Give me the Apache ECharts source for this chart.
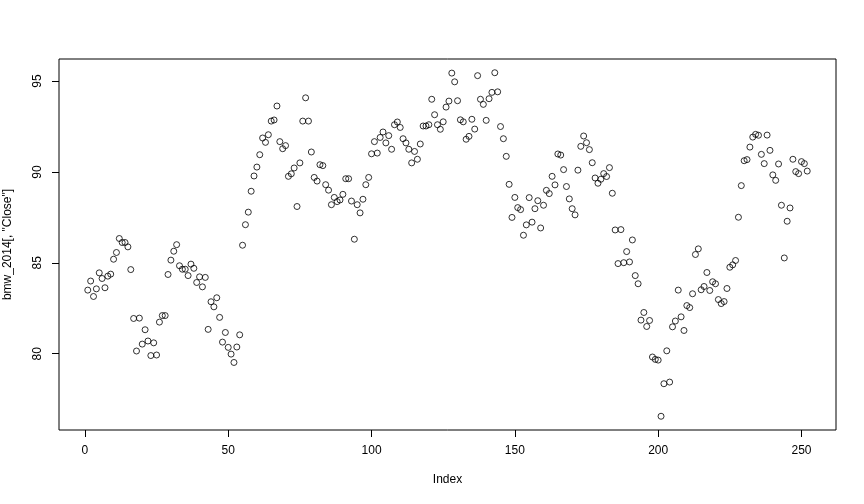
<!DOCTYPE html>
<html>
<head>
<meta charset="utf-8">
<script src="https://cdn.jsdelivr.net/npm/echarts@6/dist/echarts.min.js"></script>
<style>
html,body{margin:0;padding:0;background:#fff;}
#chart{width:864px;height:504px;}
</style>
</head>
<body>
<div id="chart"></div>
<script>
// BMW 2014 closing prices
const closeValues = [
  83.5, 84.0, 83.15, 83.57, 84.45, 84.14, 83.63, 84.27, 84.38, 85.2,
  85.57, 86.34, 86.12, 86.12, 85.88, 84.63, 81.94, 80.15, 81.96, 80.53,
  81.32, 80.7, 79.9, 80.6, 79.93, 81.74, 82.1, 82.1, 84.36, 85.15,
  85.64, 86.0, 84.84, 84.65, 84.65, 84.3, 84.93, 84.7, 83.92, 84.23,
  83.68, 84.2, 81.34, 82.86, 82.58, 83.08, 82.0, 80.64, 81.17, 80.35,
  79.98, 79.52, 80.37, 81.04, 85.97, 87.1, 87.79, 88.94, 89.78, 90.27,
  90.95, 91.87, 91.63, 92.05, 92.8, 92.86, 93.63, 91.67, 91.28, 91.45,
  89.76, 89.9, 90.22, 88.1, 90.5, 92.8, 94.08, 92.8, 91.1, 89.7,
  89.5, 90.4, 90.35, 89.3, 89.0, 88.2, 88.6, 88.37, 88.46, 88.77,
  89.63, 89.63, 88.4, 86.3, 88.2, 87.75, 88.5, 89.3, 89.7, 91.0,
  91.67, 91.04, 91.9, 92.2, 91.6, 92.0, 91.25, 92.6, 92.75, 92.45,
  91.83, 91.6, 91.25, 90.5, 91.13, 90.7, 91.54, 92.53, 92.53, 92.6,
  94.0, 93.15, 92.6, 92.35, 92.76, 93.57, 93.9, 95.44, 94.96, 93.92,
  92.87, 92.76, 91.8, 91.96, 92.9, 92.36, 95.3, 94.0, 93.72, 92.84,
  94.03, 94.38, 95.46, 94.41, 92.5, 91.83, 90.86, 89.32, 87.5, 88.6,
  88.04, 87.93, 86.52, 87.09, 88.59, 87.24, 87.98, 88.42, 86.92, 88.17,
  88.99, 88.81, 89.76, 89.29, 90.99, 90.93, 90.13, 89.2, 88.52, 87.98,
  87.64, 90.1, 91.41, 91.98, 91.61, 91.23, 90.51, 89.67, 89.38, 89.6,
  89.91, 89.75, 90.24, 88.83, 86.81, 84.96, 86.83, 85.01, 85.62, 85.05,
  86.26, 84.3, 83.85, 81.85, 82.27, 81.5, 81.83, 79.82, 79.69, 79.65,
  76.56, 78.35, 80.16, 78.44, 81.48, 81.8, 83.5, 82.03, 81.28, 82.65,
  82.54, 83.3, 85.46, 85.77, 83.52, 83.7, 84.47, 83.48, 83.96, 83.85,
  82.98, 82.76, 82.87, 83.59, 84.76, 84.89, 85.13, 87.51, 89.25, 90.62,
  90.68, 91.37, 91.92, 92.07, 92.02, 90.97, 90.46, 92.03, 91.19, 89.84,
  89.54, 90.44, 88.17, 85.27, 87.29, 88.02, 90.7, 90.02, 89.91, 90.57,
  90.46, 90.05
];
const xTicks = [0, 50, 100, 150, 200, 250];
const yTicks = [80, 85, 90, 95];
const xLabel = 'Index';
const yLabel = 'bmw_2014[, "Close"]';

const points = closeValues.map((v, i) => [i + 1, v]);

// R-style 4% axis padding
const n = closeValues.length;
const xMin = 1 - 0.04 * (n - 1), xMax = n + 0.04 * (n - 1);
const lo = Math.min(...closeValues), hi = Math.max(...closeValues);
const yMin = lo - 0.04 * (hi - lo), yMax = hi + 0.04 * (hi - lo);

const font = '"Liberation Sans", Arial, sans-serif';
const chart = echarts.init(document.getElementById('chart'), null, {renderer: 'canvas'});
chart.setOption({
  animation: false,
  backgroundColor: '#fff',
  grid: {left: 59, right: 28, top: 59, bottom: 74, containLabel: false, outerBoundsMode: 'none',
         show: true, borderColor: '#000', borderWidth: 1, backgroundColor: 'transparent'},
  xAxis: {
    type: 'value', min: xMin, max: xMax,
    name: xLabel, nameLocation: 'middle', nameGap: 44,
    nameTextStyle: {fontFamily: font, fontSize: 12, color: '#000'},
    axisLine: {show: false, onZero: false},
    axisTick: {show: true, length: 7, customValues: xTicks, lineStyle: {color: '#000'}},
    axisLabel: {customValues: xTicks, fontFamily: font, fontSize: 12, color: '#000', margin: 15},
    splitLine: {show: false}
  },
  yAxis: {
    type: 'value', min: yMin, max: yMax,
    name: yLabel, nameLocation: 'middle', nameGap: 45, nameRotate: 90,
    nameTextStyle: {fontFamily: font, fontSize: 12, color: '#000'},
    axisLine: {show: false, onZero: false},
    axisTick: {show: true, length: 7, customValues: yTicks, lineStyle: {color: '#000'}},
    axisLabel: {customValues: yTicks, rotate: 90, fontFamily: font, fontSize: 12, color: '#000', margin: 15},
    splitLine: {show: false}
  },
  series: [{
    type: 'scatter',
    data: points,
    symbol: 'circle',
    symbolSize: 6,
    itemStyle: {color: 'rgba(0,0,0,0)', borderColor: '#000', borderWidth: 1},
    emphasis: {disabled: true}
  }]
});
</script>
</body>
</html>
